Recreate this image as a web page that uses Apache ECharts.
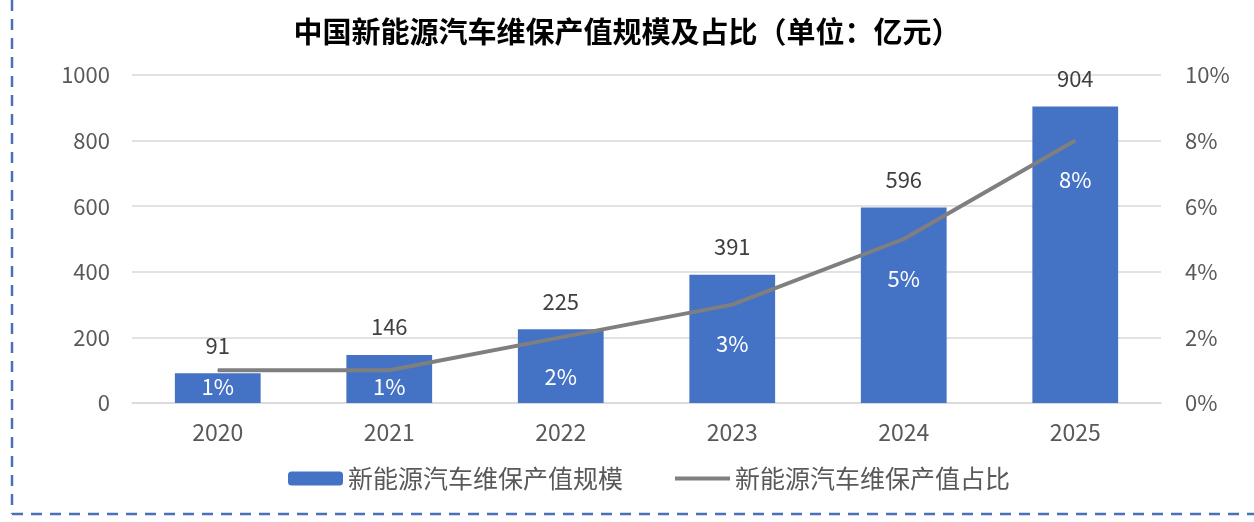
<!DOCTYPE html>
<html>
<head>
<meta charset="utf-8">
<script src="https://cdn.jsdelivr.net/npm/echarts@6/dist/echarts.min.js"></script>
<style>
html, body { margin: 0; padding: 0; background: #fff; }
#chart { width: 1254px; height: 522px; }
</style>
</head>
<body>
<div id="chart"></div>
<script>
const years = ["2020", "2021", "2022", "2023", "2024", "2025"];
const scale = [91, 146, 225, 391, 596, 904];
const share = [1, 1, 2, 3, 5, 8];
const barName = "新能源汽车维保产值规模";
const lineName = "新能源汽车维保产值占比";

const font = "'Noto Sans CJK SC', 'Noto Sans', sans-serif";
const chart = echarts.init(document.getElementById("chart"));

const option = {
	animation: false,
	textStyle: {fontFamily: font},
	title: {
		text: "中国新能源汽车维保产值规模及占比（单位：亿元）",
		left: "center",
		top: 12,
		textStyle: {fontSize: 29, fontWeight: "bold", color: "#000", fontFamily: font},
	},
	grid: {left: 132, right: 93, top: 75, bottom: 119},
	legend: {
		top: 461,
		left: 283,
		itemGap: 52,
		itemWidth: 55,
		itemHeight: 14,
		textStyle: {fontSize: 25, color: "#595959", fontFamily: font},
		data: [
			{name: barName},
			{name: lineName, icon: "path://M0,0 L55,0 L55,4 L0,4 Z"},
		],
	},
	xAxis: {
		type: "category",
		data: years,
		axisTick: {show: false},
		axisLine: {lineStyle: {color: "#d9d9d9", width: 1.5}},
		axisLabel: {fontSize: 23, color: "#595959", margin: 18, fontFamily: font},
	},
	yAxis: [
		{
			type: "value",
			min: 0, max: 1000, interval: 200,
			axisLabel: {fontSize: 22, color: "#595959", margin: 22, formatter: (v) => String(v), fontFamily: font},
			splitLine: {lineStyle: {color: "#d9d9d9", width: 1.5}},
		},
		{
			type: "value",
			min: 0, max: 10, interval: 2,
			axisLabel: {fontSize: 22, color: "#595959", margin: 24, formatter: "{value}%", fontFamily: font},
			splitLine: {show: false},
		},
	],
	series: [
		{
			name: barName,
			type: "bar",
			data: scale,
			barWidth: "50%",
			itemStyle: {color: "#4472C4"},
			label: {show: true, position: "top", distance: 17, fontSize: 22, color: "#404040", fontFamily: font},
		},
		{
			name: lineName,
			type: "line",
			yAxisIndex: 1,
			data: share.map((v) => ({
				value: v,
				label: {distance: v <= 1 ? 5 : 28},
			})),
			symbol: "circle",
			symbolSize: 1,
			showSymbol: true,
			lineStyle: {color: "#7F7F7F", width: 4},
			itemStyle: {color: "#7F7F7F"},
			label: {show: true, position: "bottom", formatter: "{c}%", fontSize: 22, color: "#fff", fontFamily: font},
			z: 3,
		},
	],
	graphic: [
		{type: "line", shape: {x1: 12, y1: 0, x2: 12, y2: 514}, style: {stroke: "#4a70b8", lineWidth: 2.5, lineDash: [11, 8]}},
		{type: "line", shape: {x1: 12, y1: 514, x2: 1254, y2: 514}, style: {stroke: "#4a70b8", lineWidth: 2.5, lineDash: [11, 8]}},
	],
};
chart.setOption(option);
</script>
</body>
</html>
